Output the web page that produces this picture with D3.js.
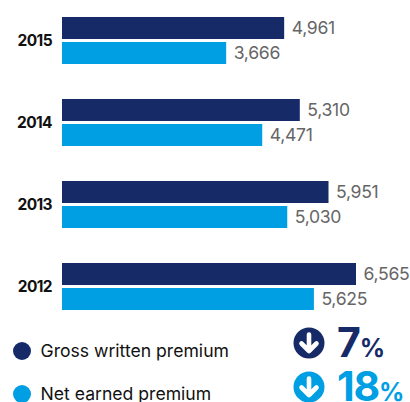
<!DOCTYPE html>
<html>
<head>
<meta charset="utf-8">
<script src="https://cdn.jsdelivr.net/npm/d3@7/dist/d3.min.js"></script>
<style>
html,body{margin:0;padding:0;background:#fff;}
svg{display:block;}
text{font-family:"Inter","Open Sans",sans-serif;}
</style>
</head>
<body>
<svg id="chart" width="410" height="402"></svg>
<script>
const years = ["2015", "2014", "2013", "2012"];
const seriesNames = ["Gross written premium", "Net earned premium"];
const grossWritten = [4961, 5310, 5951, 6565];
const netEarned = [3666, 4471, 5030, 5625];
const changes = ["7", "18"];
const seriesColors = ["#152a67", "#009fe3"];

const svg = d3.select("#chart");
const fmt = d3.format(",");
const values = [grossWritten, netEarned];

const x = d3.scaleLinear().domain([0, 6565]).range([62, 356]);
const yGroup = d3.scaleBand().domain(years).range([17, 310]).paddingInner(35 / 82);
const ySeries = d3.scaleBand().domain([0, 1]).range([0, yGroup.bandwidth()]).paddingInner(3 / 25);

// Year labels on the left
svg.append("g").selectAll("text").data(years).join("text")
  .attr("x", 52).attr("y", d => yGroup(d) + yGroup.bandwidth() / 2 + 5)
  .attr("text-anchor", "end")
  .attr("font-size", 15.5).attr("font-weight", 700).attr("letter-spacing", -0.6)
  .attr("fill", "#111")
  .text(d => d);

// One bar and value label per year in each series
values.forEach((vals, s) => {
  const g = svg.append("g");
  g.selectAll("rect").data(vals).join("rect")
    .attr("x", x(0))
    .attr("y", (d, i) => yGroup(years[i]) + ySeries(s))
    .attr("width", d => x(d) - x(0))
    .attr("height", ySeries.bandwidth())
    .attr("fill", seriesColors[s]);
  g.selectAll("text").data(vals).join("text")
    .attr("x", d => x(d) + 7.5)
    .attr("y", (d, i) => yGroup(years[i]) + ySeries(s) + ySeries.bandwidth() / 2 + 6)
    .attr("font-size", 17.6).attr("letter-spacing", -0.3)
    .attr("fill", "#666")
    .text(d => fmt(d));
});

// Legend
const legendY = d3.scalePoint().domain(seriesNames).range([351, 394]);
const legend = svg.append("g").selectAll("g").data(seriesNames).join("g")
  .attr("transform", d => `translate(0,${legendY(d)})`);
legend.append("circle").attr("cx", 22).attr("r", 9).attr("fill", (d, i) => seriesColors[i]);
legend.append("text").attr("x", 40.5).attr("y", 6)
  .attr("font-size", 17.6).attr("fill", "#111").text(d => d);

// Year-on-year change badges
const badgeY = d3.scalePoint().domain(changes).range([343, 387]);
const badges = svg.append("g").selectAll("g").data(changes).join("g")
  .attr("transform", d => `translate(309,${badgeY(d)})`);
badges.append("circle").attr("r", 15.5).attr("fill", (d, i) => seriesColors[i]);
badges.append("path")
  .attr("d", "M0,-8.5V8 M-7.5,0.5L0,8L7.5,0.5")
  .attr("fill", "none").attr("stroke", "#fff").attr("stroke-width", 4.6)
  .attr("stroke-linecap", "round").attr("stroke-linejoin", "round");
const pct = badges.append("text").attr("x", 337 - 309).attr("y", 14)
  .attr("font-weight", 700).attr("fill", (d, i) => seriesColors[i]);
pct.append("tspan").attr("font-size", 41).attr("letter-spacing", -1.2).text(d => d);
pct.append("tspan").attr("font-size", 25).attr("font-weight", 700).text("%");
</script>
</body>
</html>
